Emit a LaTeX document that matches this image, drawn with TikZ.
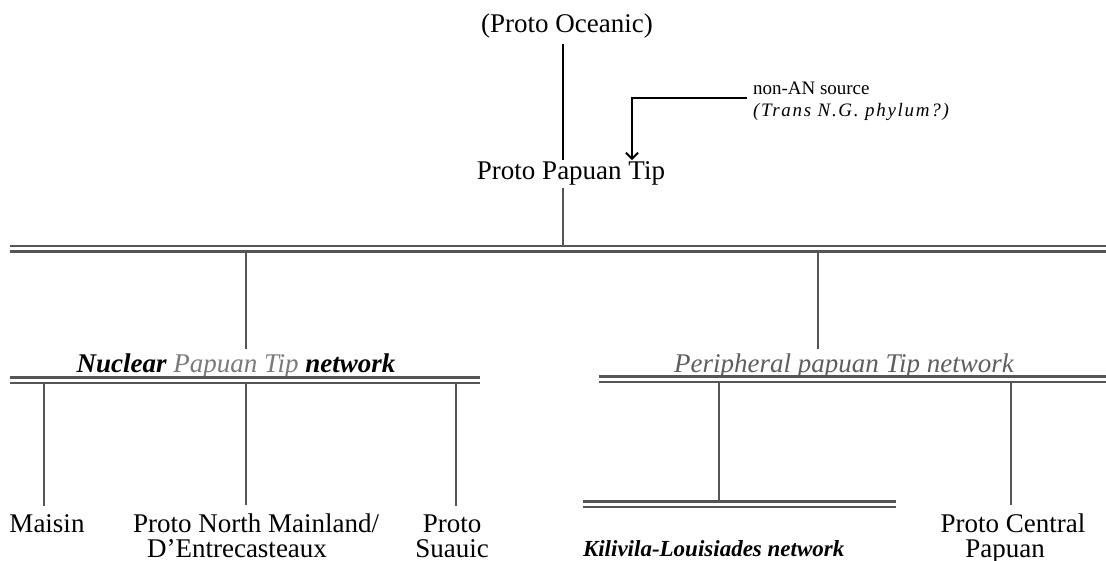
\documentclass[tikz,border=0pt]{standalone}
\usepackage{fontspec}
\setmainfont{Liberation Serif}
\usetikzlibrary{arrows.meta}
\definecolor{linegray}{HTML}{555555}
\definecolor{softgray}{HTML}{7A7A7A}
\definecolor{labelgray}{HTML}{5E5E5E}
\begin{document}
\begin{tikzpicture}[x=1pt,y=-1pt,
  roman/.style={font=\fontsize{27}{25}\selectfont, inner sep=0pt, outer sep=0pt},
  leaf/.style={roman, outer sep=8pt},
  netlabel/.style={font=\fontsize{27}{25}\selectfont\itshape, inner sep=0pt, outer sep=4pt},
  note/.style={font=\fontsize{19}{20}\selectfont, inner sep=0pt, outer sep=0pt},
  stemline/.style={draw=black, line width=2.5pt},
  dropline/.style={draw=linegray, line width=2.2pt},
  busline/.style={draw=linegray, line width=2.2pt, double=white, double distance=3pt},
  feedline/.style={draw=black, line width=2.2pt, -{Straight Barb[length=6pt,width=12pt,line width=2pt]}}]
\useasboundingbox (0,0) rectangle (1106,561);

% ---- top of the tree
\node[roman, anchor=base, outer sep=5pt] (oce) at (567,33) {(Proto Oceanic)};
\node[roman, anchor=base, outer sep=2pt] (ppt) at (571,180) {Proto Papuan Tip};
\node[note, anchor=base west] (src1) at (753,95) {non-AN source};
\node[note, anchor=base west] (src2) at (753,117)
  {\addfontfeature{LetterSpace=9}\itshape (Trans N.G. phylum?)};

\coordinate (stemX) at (563,0);
\coordinate (arrX) at (632,0);
\coordinate (srcJ) at (747,98);

\draw[stemline] (oce.south -| stemX) -- (ppt.north -| stemX);
\draw[feedline] (srcJ) -| (ppt.north -| arrX);

% ---- first split
\coordinate (busA-l) at (10,249);
\coordinate (busA-r) at (1106,249);
\coordinate (nucX) at (246,0);
\coordinate (perX) at (818,0);

\node[netlabel, anchor=base] (nuc) at (236,372)
  {{\bfseries Nuclear} {\color{softgray}Papuan Tip} {\bfseries network}};
\node[netlabel, anchor=base, text=labelgray] (per) at (844,372)
  {Peripheral papuan Tip network};

\draw[dropline] (ppt.south -| stemX) -- (stemX |- busA-l);
\draw[dropline] (nucX |- busA-l) -- (nucX |- nuc.north);
\draw[dropline] (perX |- busA-l) -- (perX |- per.north);
\draw[busline] (busA-l) -- (busA-r);

% ---- nuclear network
\coordinate (busN-l) at (10,380);
\coordinate (busN-r) at (480,380);
\coordinate (maiX) at (44,0);
\coordinate (suaX) at (456,0);
\node[leaf, anchor=base] (mai) at (47,532) {Maisin};
\node[leaf, anchor=base] (pnm) at (256,532) {Proto North Mainland/};
\node[roman, anchor=base] (pnm2) at (237,557) {D’Entrecasteaux};
\node[leaf, anchor=base] (sua) at (452,532) {Proto};
\node[roman, anchor=base] (sua2) at (452,557) {Suauic};

\draw[dropline] (maiX |- busN-l) -- (maiX |- mai.north);
\draw[dropline] (nucX |- busN-l) -- (nucX |- pnm.north);
\draw[dropline] (suaX |- busN-l) -- (suaX |- sua.north);
\draw[busline] (busN-l) -- (busN-r);

% ---- peripheral network
\coordinate (busP-l) at (599,379);
\coordinate (busP-r) at (1106,379);
\coordinate (busK-l) at (583,504);
\coordinate (busK-r) at (896,504);
\coordinate (kilX) at (719,0);
\coordinate (cenX) at (1011,0);
\node[leaf, anchor=base] (cen) at (1013,532) {Proto Central};
\node[roman, anchor=base] (cen2) at (1005,557) {Papuan};
\node[roman, anchor=base west, font=\fontsize{23}{25}\selectfont\itshape\bfseries] (kil)
  at (583,556) {Kilivila-Louisiades network};

\draw[dropline] (kilX |- busP-l) -- (kilX |- busK-l);
\draw[dropline] (cenX |- busP-l) -- (cenX |- cen.north);
\draw[busline] (busP-l) -- (busP-r);
\draw[busline] (busK-l) -- (busK-r);
\end{tikzpicture}
\end{document}
